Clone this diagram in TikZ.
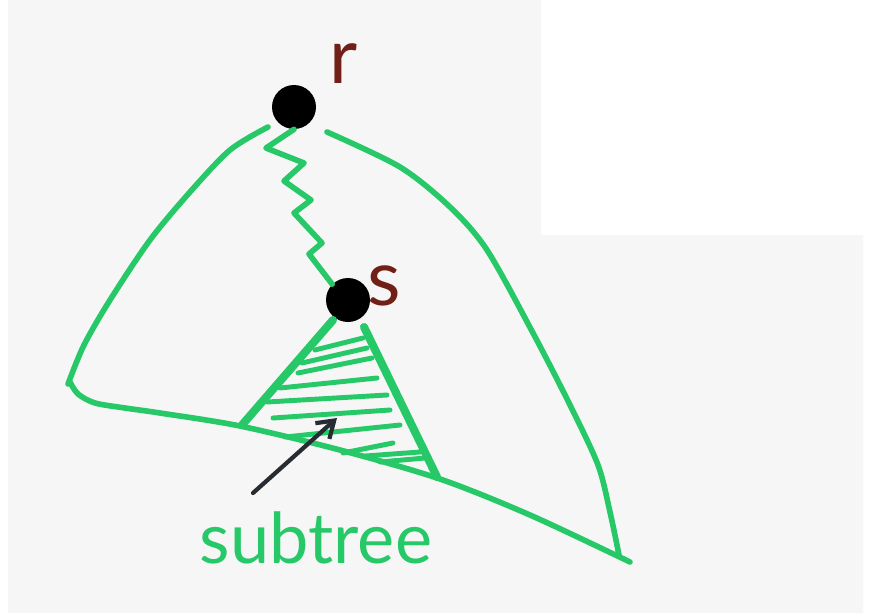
\documentclass[tikz,border=0pt]{standalone}
\usepackage{fontspec}
\setsansfont{Lato}
\usetikzlibrary{arrows.meta,positioning}

\definecolor{marker}{RGB}{38,200,104}
\definecolor{inkbrown}{RGB}{112,32,22}
\definecolor{inkdark}{RGB}{38,44,50}
\definecolor{paper}{RGB}{246,246,246}

\begin{document}
\begin{tikzpicture}[x=0.02cm, y=-0.02cm,
    vertex/.style={circle, fill=black, inner sep=0pt, minimum size=44*0.02cm},
    pen/.style={draw=marker, line width=3.2pt, line cap=round, line join=round},
    side/.style={draw=marker, line width=4.6pt, line cap=round},
    hatch/.style={draw=marker, line width=2.8pt, line cap=round},
    edge/.style={-{Straight Barb[length=9pt,width=12pt]}, draw=inkdark, line width=2.4pt, line cap=round},
    label/.style={text=inkbrown, font=\sffamily\fontsize{44}{44}\selectfont},
    caption/.style={text=marker, font=\sffamily\fontsize{40}{40}\selectfont},
]

% paper
\useasboundingbox (0,0) rectangle (870,613);
\fill[white] (0,0) rectangle (870,613);
\fill[paper] (8,0) -- (541,0) -- (541,235) -- (863,235) -- (863,613) -- (8,613) -- cycle;

% vertices
\node[vertex] (r) at (294,107) {};
\node[vertex] (s) at (348,300) {};
\node[label] (rlab) at (344,64) {r};
\node[label] (slab) at (384,286) {s};

% whole tree
\draw[pen] plot[smooth] coordinates {(268,127) (230,150) (190,192) (150,240) (110,300) (84,345) (68,384)};
\draw[pen] plot[smooth] coordinates {(327,132) (400,167) (450,207) (487,250) (533,333) (570,405) (598,465) (610,512) (619,555)};
\draw[pen] plot[smooth] coordinates {(70,382) (78,394) (95,403) (125,408) (160,413) (240,426) (340,450) (440,479) (530,515) (630,562)};

% path from r to s
\draw[pen] (r.south) -- (266,148) -- (304,163) -- (284,181) -- (311,200) -- (294,213) -- (322,243) -- (309,254) -- (s.north west);

% subtree
\draw[side] (333,320) -- (242,425);
\draw[side] (364,327) -- (437,477);
\draw[hatch] (315,350) -- (363,338);
\draw[hatch] (302,363) -- (367,348);
\draw[hatch] (298,373) -- (372,358);
\draw[hatch] (280,388) -- (377,378);
\draw[hatch] (267,402) -- (387,395);
\draw[hatch] (273,418) -- (390,410);
\draw[hatch] (285,437) -- (400,425);
\draw[hatch] (343,453) -- (393,443);
\draw[hatch] (365,456) -- (420,452);
\draw[hatch] (380,462) -- (425,458);

% caption
\node[caption] (sub) at (316,538) {subtree};
\coordinate (tail) at (253,493);
\coordinate (head) at (337,418);
\draw[edge] (tail) -- (head);

\end{tikzpicture}
\end{document}
